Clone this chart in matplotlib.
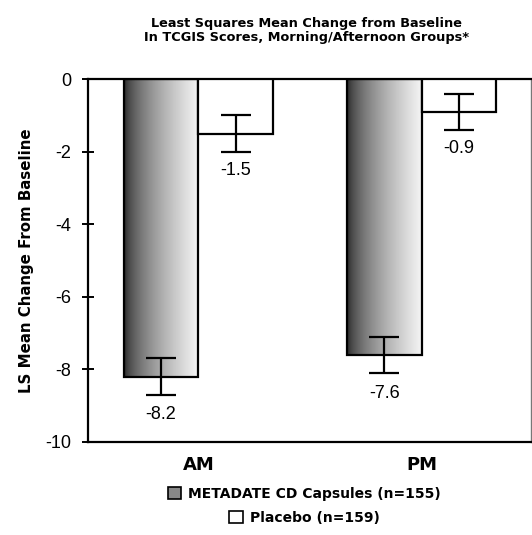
import numpy as np
import matplotlib
matplotlib.use("Agg")
import matplotlib.pyplot as plt
from matplotlib.patches import Patch

groups = ["AM", "PM"]
metadate = [-8.2, -7.6]
placebo = [-1.5, -0.9]
metadate_err = [0.5, 0.5]
placebo_err = [0.5, 0.5]
yticks = [0, -2, -4, -6, -8, -10]
title = "Least Squares Mean Change from Baseline\nIn TCGIS Scores, Morning/Afternoon Groups*"
ylabel = "LS Mean Change From Baseline"
legend_labels = ["METADATE CD Capsules (n=155)", "Placebo (n=159)"]

plt.rcParams['font.family'] = ['Liberation Sans', 'DejaVu Sans']
BOLD = ['DejaVu Sans']

fig = plt.figure(figsize=(5.32, 5.35), dpi=100)
ax = fig.add_axes([0.165, 0.174, 0.833, 0.678])

x = np.arange(len(groups))
w = 0.335
b1 = ax.bar(x - w / 2, metadate, w, facecolor='none', edgecolor='black', linewidth=1.6, zorder=3)
b2 = ax.bar(x + w / 2, placebo, w, facecolor='white', edgecolor='black', linewidth=1.6, zorder=3)

# gradient fill for the stippled bars
grad = np.linspace(0, 1, 200) ** 0.6
img = np.tile(grad, (10, 1))
for r in b1:
    x0, y0 = r.get_x(), r.get_y()
    im = ax.imshow(img, cmap='gray', vmin=-0.15, vmax=1.05, aspect='auto',
                   extent=[x0, x0 + r.get_width(), y0 + r.get_height(), y0],
                   zorder=2, interpolation='bilinear')
    im.set_clip_path(r)

ax.errorbar(x - w / 2, metadate, yerr=metadate_err, fmt='none', ecolor='black',
            elinewidth=1.6, capsize=11, capthick=1.6, zorder=4)
ax.errorbar(x + w / 2, placebo, yerr=placebo_err, fmt='none', ecolor='black',
            elinewidth=1.6, capsize=11, capthick=1.6, zorder=4)

for xi, v, e in zip(x - w / 2, metadate, metadate_err):
    ax.text(xi, v - e - 0.32, f"{v:.1f}", ha='center', va='top', fontsize=13)
for xi, v, e in zip(x + w / 2, placebo, placebo_err):
    ax.text(xi, v - e - 0.28, f"{v:.1f}", ha='center', va='top', fontsize=13)

ax.set_xlim(-0.495, 1.49)
ax.set_ylim(-10, 0)
ax.set_yticks(yticks)
ax.set_yticklabels([str(t) for t in yticks], fontsize=13)
ax.tick_params(axis='y', direction='inout', length=8, width=1.4, pad=8)
ax.set_xticks(x)
ax.set_xticklabels(groups, fontsize=13, fontweight='bold', family=BOLD)
ax.tick_params(axis='x', length=0, pad=10)
for s in ['left', 'bottom', 'top']:
    ax.spines[s].set_linewidth(1.6)
ax.spines['right'].set_linewidth(1.0)
ax.spines['right'].set_color('#777777')

ax.set_ylabel(ylabel, fontsize=10.8, fontweight='bold', family=BOLD, labelpad=8)
fig.text(0.577, 0.968, title, ha='center', va='top', fontsize=9.3, fontweight='bold',
         family=BOLD, linespacing=1.1)

h1 = Patch(facecolor='#888888', edgecolor='black', linewidth=1.2)
h2 = Patch(facecolor='white', edgecolor='black', linewidth=1.2)
prop = {'weight': 'bold', 'size': 10, 'family': BOLD}
leg1 = fig.legend([h1], [legend_labels[0]], loc='center', bbox_to_anchor=(0.572, 0.077),
                  frameon=False, prop=prop, handlelength=1.0,
                  handleheight=1.0, handletextpad=0.5, borderpad=0)
leg2 = fig.legend([h2], [legend_labels[1]], loc='center', bbox_to_anchor=(0.572, 0.032),
                  frameon=False, prop=prop, handlelength=1.0,
                  handleheight=1.0, handletextpad=0.5, borderpad=0)

fig.savefig("out.png", dpi=100)
